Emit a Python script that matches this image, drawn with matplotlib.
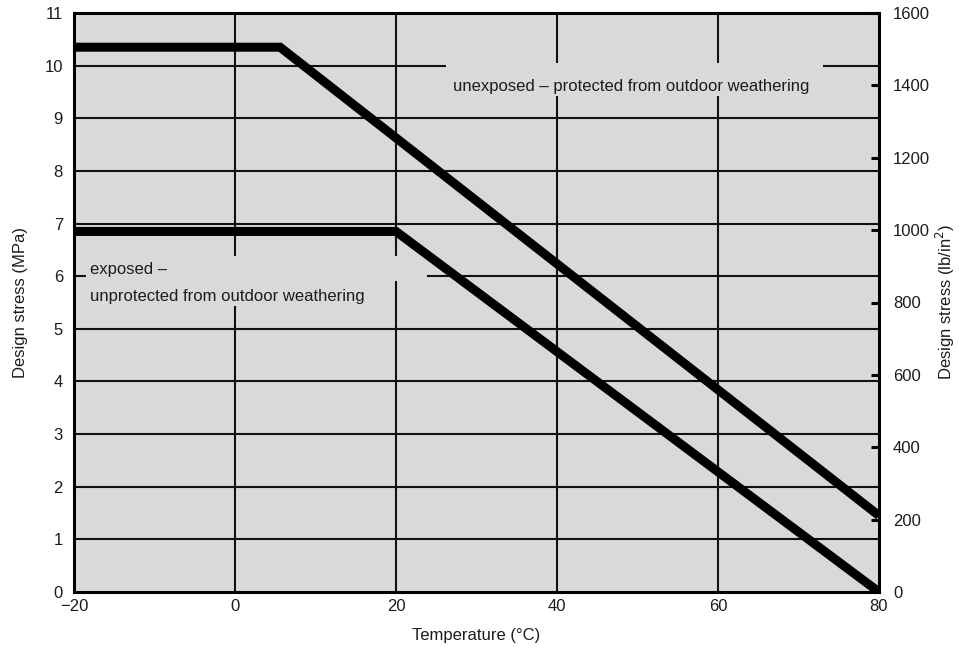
import matplotlib
matplotlib.use("Agg")
import matplotlib.pyplot as plt
from matplotlib.patches import Rectangle

# Data
temp_unexposed = [-20, 5.6, 80]
stress_unexposed = [10.35, 10.35, 1.45]
temp_exposed = [-20, 20, 80]
stress_exposed = [6.85, 6.85, 0.0]

x_ticks = [-20, 0, 20, 40, 60, 80]
x_labels = ["\u221220", "0", "20", "40", "60", "80"]
y_ticks = list(range(0, 12))
psi_ticks = [0, 200, 400, 600, 800, 1000, 1200, 1400, 1600]

label_unexposed = "unexposed \u2013 protected from outdoor weathering"
label_exposed_1 = "exposed \u2013"
label_exposed_2 = "unprotected from outdoor weathering"

plt.rcParams['font.family'] = ['Liberation Sans', 'DejaVu Sans']
TXT = "#1c1c1c"
BG = "#d9d9d9"
FS = 12

fig = plt.figure(figsize=(9.59, 6.52), dpi=100)
ax = fig.add_axes([74/959, 1-592/652, (879-74)/959, (592-13)/652])
ax.set_facecolor(BG)
ax.set_xlim(-20, 80)
ax.set_ylim(0, 11)

# grid
for v in [0, 20, 40, 60]:
    ax.axvline(v, color="#111111", lw=1.5, zorder=1)
for v in range(1, 11):
    ax.axhline(v, color="#111111", lw=1.5, zorder=1)

# masks behind labels
ax.add_patch(Rectangle((-18.5, 5.90), 42.4, 0.48, facecolor=BG, edgecolor='none', zorder=2))
ax.add_patch(Rectangle((-18.5, 5.43), 35.9, 0.50, facecolor=BG, edgecolor='none', zorder=2))
ax.add_patch(Rectangle((26.2, 9.43), 46.9, 0.62, facecolor=BG, edgecolor='none', zorder=2))

ax.plot(temp_unexposed, stress_unexposed, color='black', lw=6.5,
        solid_capstyle='butt', solid_joinstyle='miter', zorder=3)
ax.plot(temp_exposed, stress_exposed, color='black', lw=6.5,
        solid_capstyle='butt', solid_joinstyle='miter', zorder=3)

ax.text(27.1, 9.6, label_unexposed, fontsize=FS, color=TXT, va='center', ha='left', zorder=4)
ax.text(-18.0, 6.12, label_exposed_1, fontsize=FS, color=TXT, va='center', ha='left', zorder=4)
ax.text(-18.0, 5.62, label_exposed_2, fontsize=FS, color=TXT, va='center', ha='left', zorder=4)

ax.set_xticks(x_ticks, x_labels)
ax.set_yticks(y_ticks)
ax.tick_params(axis='x', length=0, pad=5, labelsize=FS, labelcolor=TXT)
ax.tick_params(axis='y', length=0, pad=8, labelsize=FS, labelcolor=TXT)
for s in ax.spines.values():
    s.set_linewidth(2.2)
    s.set_color('black')
    s.set_zorder(5)

ax.set_xlabel("Temperature (\u00b0C)", fontsize=FS, color=TXT, labelpad=10)
ax.set_ylabel("Design stress (MPa)", fontsize=FS, color=TXT, labelpad=12)

ax2 = ax.twinx()
ax2.set_ylim(0, 1600)
ax2.set_yticks(psi_ticks)
ax2.tick_params(axis='y', direction='in', length=6, width=2.2, pad=10,
                labelsize=FS, labelcolor=TXT, color='black')
for s in ax2.spines.values():
    s.set_visible(False)
ax2.set_ylabel("Design stress (lb/in$^2$)", fontsize=FS, color=TXT, labelpad=3)

fig.savefig("out.png", dpi=100)
